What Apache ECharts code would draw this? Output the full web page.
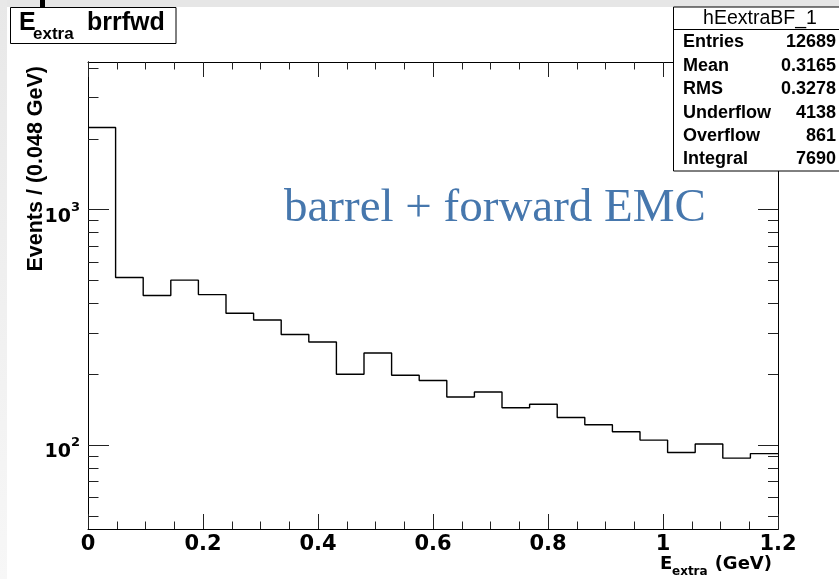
<!DOCTYPE html>
<html>
<head>
<meta charset="utf-8">
<script src="https://cdn.jsdelivr.net/npm/echarts@6/dist/echarts.min.js"></script>
<style>
  html, body { margin: 0; padding: 0; background: #fff; }
  #main { width: 839px; height: 579px; }
</style>
</head>
<body>
<div id="main"></div>
<script>
// E_extra histogram, barrel + forward EMC (25 bins of 0.048 GeV)
const binWidth = 0.048;
const counts = [2234, 515, 432, 502, 436, 363, 340, 295, 274, 200, 246, 198, 188,
  160, 168, 144, 149, 131, 122, 114, 105, 93, 101, 88, 92];
const yMajorTicks = [100, 1000];
const yMinorTicks = [50, 60, 70, 80, 90, 200, 300, 400, 500, 600, 700, 800, 900, 2000, 3000, 4000];
const statNames = ["Entries", "Mean", "RMS", "Underflow", "Overflow", "Integral"];
const statValues = ["12689", "0.3165", "0.3278", "4138", "861", "7690"];

// step outline: one point per bin low edge, plus closing point at the upper edge
const histData = counts.map((c, i) => [+(i * binWidth).toFixed(3), c]);
histData.push([+(counts.length * binWidth).toFixed(3), counts[counts.length - 1]]);

const axisFont = "DejaVu Sans";
const boxFont = "Liberation Sans";
const yMin = 44, yMax = 4243;

function xAxisCfg(pos, idx, labels) {
  return {
    type: "value", gridIndex: idx, position: pos, min: 0, max: 1.2, interval: 0.2,
    axisLine: { show: true, lineStyle: { color: "#000", width: 1 } },
    axisTick: { show: true, inside: true, length: 15, lineStyle: { color: "#222" } },
    minorTick: { show: true, splitNumber: 4, length: 7.5, lineStyle: { color: "#222" } },
    splitLine: { show: false },
    axisLabel: {
      show: labels, margin: 5, color: "#000", fontFamily: axisFont, fontWeight: "bold", fontSize: 21,
      formatter: v => String(Math.round(v * 10) / 10)
    }
  };
}

function yAxisCfg(pos, idx, ticks, len, labels) {
  return {
    type: "log", logBase: 10, gridIndex: idx, position: pos, min: yMin, max: yMax,
    axisLine: { show: true, lineStyle: { color: "#000", width: 1 } },
    axisTick: { show: true, inside: true, length: len, customValues: ticks, lineStyle: { color: "#222" } },
    minorTick: { show: false },
    splitLine: { show: false },
    axisLabel: {
      show: labels, customValues: yMajorTicks, margin: 8, color: "#000",
      formatter: v => "{b|10}{s|" + Math.round(Math.log10(v)) + "}",
      rich: {
        b: { fontFamily: axisFont, fontWeight: "bold", fontSize: 19, color: "#000", verticalAlign: "middle", padding: [14, 0, 0, 0] },
        s: { fontFamily: axisFont, fontWeight: "bold", fontSize: 13, color: "#000", verticalAlign: "middle", padding: [0, 0, 4, 0] }
      }
    }
  };
}

const gridBox = { left: 88, top: 62, width: 690, height: 467, outerBoundsMode: "none" };

const graphics = [
  // screenshot edges
  { type: "rect", z: 100, shape: { x: 0, y: 0, width: 839, height: 7 }, style: { fill: "#e6e6e6" } },
  { type: "rect", z: 100, shape: { x: 0, y: 0, width: 7, height: 579 },
    style: { fill: new echarts.graphic.LinearGradient(0, 0, 0, 1, [{ offset: 0, color: "#e8e8e8" }, { offset: 1, color: "#f7f7f7" }]) } },
  { type: "rect", z: 101, shape: { x: 40, y: 0, width: 5, height: 7 }, style: { fill: "#000" } },
  // title box
  { type: "rect", z: 100, shape: { x: 10.5, y: 7.5, width: 165.5, height: 36 }, style: { fill: "#fff", stroke: "#000", lineWidth: 1 } },
  { type: "text", z: 101, x: 19, y: 23, style: { text: "E", font: "bold 25px " + boxFont, fill: "#000", verticalAlign: "middle" } },
  { type: "text", z: 101, x: 33, y: 34, style: { text: "extra", font: "bold 17px " + boxFont, fill: "#000", verticalAlign: "middle" } },
  { type: "text", z: 101, x: 87, y: 23, style: { text: "brrfwd", font: "bold 25px " + boxFont, fill: "#000", verticalAlign: "middle" } },
  // stats box
  { type: "rect", z: 100, shape: { x: 673.5, y: 7, width: 170, height: 164 }, style: { fill: "#fff", stroke: "#000", lineWidth: 1 } },
  { type: "line", z: 101, shape: { x1: 673.5, y1: 29.5, x2: 839, y2: 29.5 }, style: { stroke: "#000", lineWidth: 1 } },
  { type: "text", z: 101, x: 760, y: 19, style: { text: "hEextraBF_1", font: "19.5px " + boxFont, fill: "#000", align: "center", verticalAlign: "middle" } },
  // annotation
  { type: "text", z: 101, x: 284, y: 209, style: { text: "barrel + forward EMC", font: "47px 'Liberation Serif'", fill: "#4677ad", verticalAlign: "middle" } },
  // axis titles
  { type: "text", z: 101, x: 36, y: 66, rotation: Math.PI / 2,
    style: { text: "Events / (0.048 GeV)", font: "bold 21.5px " + boxFont, fill: "#000", align: "right", verticalAlign: "middle" } },
  { type: "text", z: 101, x: 660, y: 564, style: { text: "E", font: "bold 18px " + axisFont, fill: "#000", verticalAlign: "middle" } },
  { type: "text", z: 101, x: 672, y: 572, style: { text: "extra", font: "bold 12px " + axisFont, fill: "#000", verticalAlign: "middle" } },
  { type: "text", z: 101, x: 772, y: 564, style: { text: "(GeV)", font: "bold 18px " + axisFont, fill: "#000", align: "right", verticalAlign: "middle" } }
];

statNames.forEach((name, i) => {
  const y = 42.5 + i * 23.4;
  graphics.push({ type: "text", z: 101, x: 683, y: y, style: { text: name, font: "bold 18px " + boxFont, fill: "#000", verticalAlign: "middle" } });
  graphics.push({ type: "text", z: 101, x: 836, y: y, style: { text: statValues[i], font: "bold 18px " + boxFont, fill: "#000", align: "right", verticalAlign: "middle" } });
});

const chart = echarts.init(document.getElementById("main"), null, { renderer: "canvas" });
chart.setOption({
  animation: false,
  backgroundColor: "#fff",
  grid: [Object.assign({}, gridBox), Object.assign({}, gridBox)],
  xAxis: [xAxisCfg("bottom", 0, true), xAxisCfg("top", 1, false)],
  yAxis: [
    yAxisCfg("left", 0, yMajorTicks, 21, true),
    yAxisCfg("right", 0, yMajorTicks, 20, false),
    yAxisCfg("left", 1, yMinorTicks, 10.5, false),
    yAxisCfg("right", 1, yMinorTicks, 10, false)
  ],
  series: [{
    type: "line", xAxisIndex: 0, yAxisIndex: 0, step: "end", showSymbol: false,
    data: histData, lineStyle: { color: "#000", width: 1.4 }, silent: true
  }],
  graphic: graphics
});
</script>
</body>
</html>
